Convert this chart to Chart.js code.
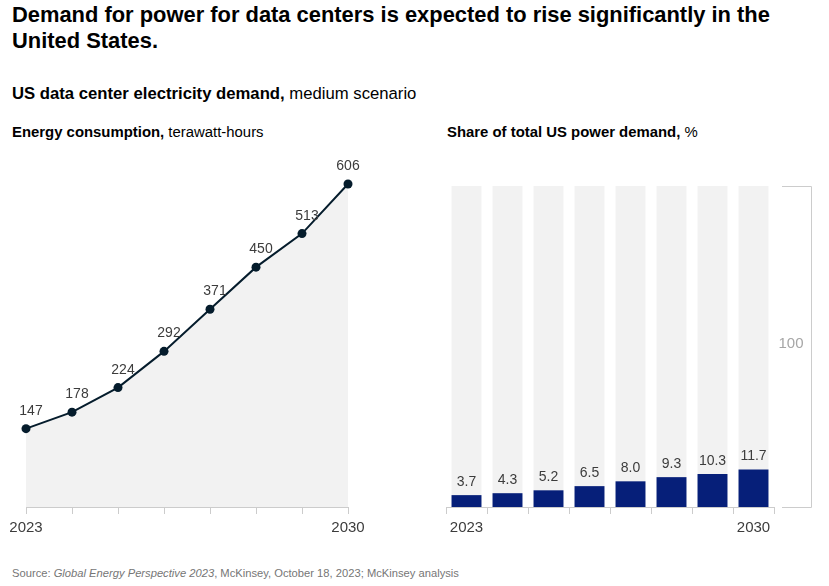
<!DOCTYPE html>
<html>
<head>
<meta charset="utf-8">
<script src="https://cdn.jsdelivr.net/npm/chart.js@4.4.1/dist/chart.umd.min.js"></script>
<style>
  body { margin: 0; background: #fff; font-family: "Liberation Sans", Arial, sans-serif; color: #051c2c; }
  .page { position: relative; width: 829px; height: 586px; overflow: hidden; }
  h1 { position: absolute; left: 12px; top: 2px; margin: 0; width: 800px; font-size: 21.9px; line-height: 26px; font-weight: bold; color: #000; }
  .sub { position: absolute; left: 12px; top: 84px; font-size: 16.7px; color: #000; }
  .ctitle { position: absolute; top: 124px; font-size: 14.9px; color: #000; }
  .source { position: absolute; left: 12px; top: 567px; font-size: 11.2px; color: #767676; }
  .box { position: absolute; top: 150px; width: 400px; height: 390px; }
</style>
</head>
<body>
<div class="page">
  <h1>Demand for power for data centers is expected to rise significantly in the United States.</h1>
  <div class="sub"><b>US data center electricity demand,</b> medium scenario</div>
  <div class="ctitle" style="left:12px"><b>Energy consumption,</b> terawatt-hours</div>
  <div class="ctitle" style="left:447px"><b>Share of total US power demand,</b> %</div>
  <div class="box" style="left:0"><canvas id="energy"></canvas></div>
  <div class="box" style="left:430px;width:399px"><canvas id="share"></canvas></div>
  <div class="source">Source: <i>Global Energy Perspective 2023</i>, McKinsey, October 18, 2023; McKinsey analysis</div>
</div>
<script>
const years = ["2023", "2024", "2025", "2026", "2027", "2028", "2029", "2030"];
const energyTwh = [147, 178, 224, 292, 371, 450, 513, 606];
const sharePct = [3.7, 4.3, 5.2, 6.5, 8.0, 9.3, 10.3, 11.7];
const totalPct = [100, 100, 100, 100, 100, 100, 100, 100];

const navy = "#051c2c";
const barBlue = "#061f79";
const lightGray = "#f2f2f2";
const axisGray = "#cccccc";
const labelColor = "#3c3c3c";
const fontFamily = '"Liberation Sans", Arial, sans-serif';

const endYearsOnly = function (value, index) {
  return index === 0 || index === years.length - 1 ? years[index] : "";
};

const xAxis = (offset) => ({
  offset: offset,
  afterFit: (scale) => { scale.height = 33; },
  border: { color: axisGray, width: 1 },
  grid: { drawOnChartArea: false, drawTicks: true, tickLength: 7, color: axisGray, offset: offset },
  ticks: {
    autoSkip: false,
    maxRotation: 0,
    padding: 5,
    color: labelColor,
    font: { family: fontFamily, size: 15 },
    callback: endYearsOnly,
  },
});

// value labels above the points
const pointLabels = {
  id: "pointLabels",
  afterDatasetsDraw(chart) {
    const ctx = chart.ctx;
    const meta = chart.getDatasetMeta(0);
    ctx.save();
    ctx.fillStyle = labelColor;
    ctx.font = "14px " + fontFamily;
    ctx.textAlign = "center";
    ctx.textBaseline = "alphabetic";
    meta.data.forEach((pt, i) => {
      const shift = i === meta.data.length - 1 ? 0 : 5;
      ctx.fillText(String(energyTwh[i]), pt.x + shift, pt.y - 14);
    });
    ctx.restore();
  },
};

// value labels above bars and the 100% bracket on the right
const barLabels = {
  id: "barLabels",
  afterDatasetsDraw(chart) {
    const ctx = chart.ctx;
    const meta = chart.getDatasetMeta(0);
    const y = chart.scales.y;
    const area = chart.chartArea;
    ctx.save();
    ctx.fillStyle = labelColor;
    ctx.font = "14px " + fontFamily;
    ctx.textAlign = "center";
    meta.data.forEach((bar, i) => {
      ctx.fillText(sharePct[i].toFixed(1), bar.x, bar.y - 9);
    });

    const top = y.getPixelForValue(100);
    const bottom = y.getPixelForValue(0);
    const x0 = area.right + 8;
    const x1 = area.right + 37;
    ctx.strokeStyle = axisGray;
    ctx.lineWidth = 1;
    ctx.beginPath();
    ctx.moveTo(x0, top + 0.5);
    ctx.lineTo(x1 + 0.5, top + 0.5);
    ctx.lineTo(x1 + 0.5, bottom + 0.5);
    ctx.lineTo(x0, bottom + 0.5);
    ctx.stroke();
    ctx.fillStyle = "#a6a6a6";
    ctx.font = "15px " + fontFamily;
    ctx.textBaseline = "middle";
    ctx.fillText("100", area.right + 17, y.getPixelForValue(50) - 3);
    ctx.restore();
  },
};

new Chart(document.getElementById("energy"), {
  type: "line",
  data: {
    labels: years,
    datasets: [
      {
        data: energyTwh,
        fill: "origin",
        backgroundColor: lightGray,
        borderColor: navy,
        borderWidth: 2,
        tension: 0,
        pointRadius: 4.5,
        pointBackgroundColor: navy,
        pointBorderColor: navy,
        pointBorderWidth: 0,
        clip: false,
      },
    ],
  },
  options: {
    responsive: true,
    maintainAspectRatio: false,
    animation: false,
    layout: { padding: { top: 34, left: 26, right: 52, bottom: 0 } },
    plugins: { legend: { display: false }, tooltip: { enabled: false } },
    scales: {
      x: xAxis(false),
      y: { display: false, min: 0, max: 606 },
    },
  },
  plugins: [pointLabels],
});

new Chart(document.getElementById("share"), {
  type: "bar",
  data: {
    labels: years,
    datasets: [
      { data: sharePct, backgroundColor: barBlue, order: 0 },
      { data: totalPct, backgroundColor: lightGray, order: 1 },
    ],
  },
  options: {
    responsive: true,
    maintainAspectRatio: false,
    animation: false,
    grouped: false,
    barPercentage: 0.73,
    categoryPercentage: 1,
    layout: { padding: { top: 36, left: 16, right: 55, bottom: 0 } },
    plugins: { legend: { display: false }, tooltip: { enabled: false } },
    scales: {
      x: xAxis(true),
      y: { display: false, min: 0, max: 100 },
    },
  },
  plugins: [barLabels],
});
</script>
</body>
</html>
